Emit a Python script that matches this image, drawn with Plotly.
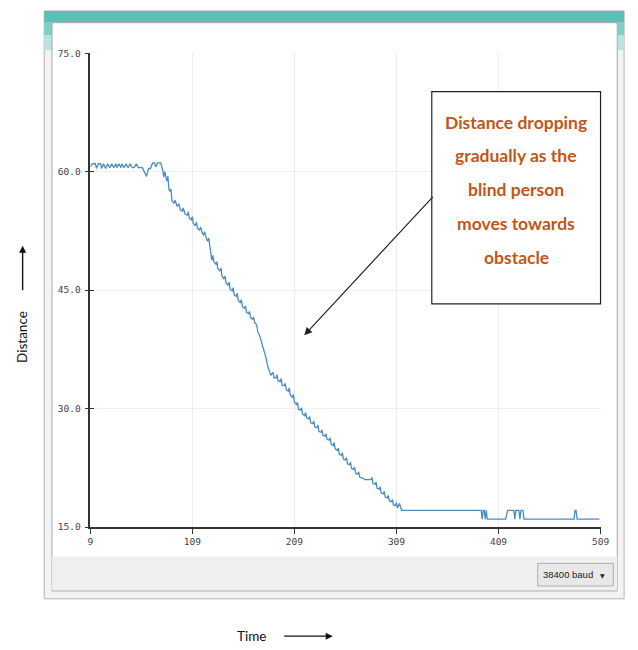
import plotly.graph_objects as go

# ---- data ----
time = [9, 11, 14, 15, 17, 19, 20, 22, 24, 26, 28, 30, 32, 34, 35, 37, 39, 40, 42, 44,
        46, 48, 50, 52, 54, 56, 60, 62, 64, 66, 68, 70, 72, 73, 75, 78,
        80, 81, 82, 84, 85, 86, 87, 88, 89, 91, 92, 94, 96, 97, 99, 100, 102, 104, 105,
        106, 108, 109, 110, 112, 113, 114, 116, 117, 119, 120, 121, 123, 124, 125, 126,
        127, 128, 129, 130, 132, 133, 134, 136, 137, 138, 140, 141, 142, 144, 145, 146,
        148, 149, 150, 152, 153, 154, 156, 157, 158, 160, 161, 162, 164, 165, 166, 168,
        169, 170, 172, 173, 175, 177, 179, 181, 183, 185,
        186, 188, 189, 191, 192, 193, 195, 196, 197, 199, 200, 201, 203, 204, 205, 207,
        208, 209, 211, 212, 213, 215, 216, 217, 219, 220, 221, 223, 224, 225, 227, 228,
        229, 231, 232, 233, 235, 236, 237, 239, 240, 241, 243, 244, 245, 247, 248, 249,
        251, 252, 253, 255, 256, 257, 259, 260, 261, 263, 264, 265, 267, 268, 269, 271,
        272, 273, 276, 278, 284, 285, 286, 288, 289, 290, 292, 293, 294, 296, 297, 298,
        300, 301, 302, 304, 305, 306, 308, 309, 310, 312, 314,
        392, 393, 394, 395, 396, 397, 398, 416, 418, 424, 425, 426, 429, 430, 431, 433,
        434, 483, 484, 485, 486, 508]
distance = [60.6, 61.0, 61.0, 60.4, 61.0, 61.0, 60.4, 61.0, 60.4, 61.0, 60.5, 61.0, 60.5,
            61.0, 60.5, 61.0, 60.5, 61.0, 60.5, 61.0, 60.5, 61.0, 60.5, 60.5, 61.0, 60.5,
            60.5, 60.0, 59.4, 60.4, 60.4, 61.1, 61.1, 60.6, 61.1, 61.1,
            60.2, 59.3, 60.0, 58.8, 59.4, 57.8, 57.5, 57.8, 56.3, 56.0, 56.4, 55.6, 55.9,
            55.2, 55.0, 55.4, 54.6, 54.5, 54.9, 54.1, 53.9, 54.3, 53.4, 53.2, 53.6, 52.8,
            52.6, 53.0, 52.1, 52.0, 52.4, 51.4, 51.2, 51.6, 50.5, 49.5, 48.8, 49.4, 48.6,
            48.3, 48.6, 47.7, 47.4, 47.8, 46.8, 46.4, 46.8, 45.9, 45.6, 46.0, 45.1, 44.9,
            45.3, 44.4, 44.2, 44.6, 43.7, 43.4, 43.8, 42.9, 42.7, 43.0, 42.2, 42.0, 42.3,
            41.5, 41.3, 41.6, 40.9, 40.6, 39.8, 39.2, 38.4, 37.6, 36.5, 35.3, 34.4,
            34.2, 34.6, 33.9, 33.9, 34.3, 33.5, 33.4, 33.8, 32.9, 32.9, 33.2, 32.4, 32.2,
            32.6, 31.7, 31.4, 31.8, 30.8, 30.5, 30.8, 29.9, 29.8, 30.1, 29.3, 29.1, 29.5,
            28.8, 28.7, 29.0, 28.2, 28.1, 28.4, 27.7, 27.6, 27.9, 27.1, 27.0, 27.3, 26.6,
            26.5, 26.8, 26.1, 26.0, 26.3, 25.5, 25.3, 25.7, 24.9, 24.7, 25.0, 24.2, 24.1,
            24.4, 23.6, 23.5, 23.8, 23.0, 22.9, 23.2, 22.4, 22.3, 22.6, 21.8, 21.7, 22.0,
            21.3, 21.2, 21.0, 21.0, 21.3, 20.5, 20.4, 20.7, 19.9, 19.8, 20.1, 19.3, 19.2,
            19.5, 18.8, 18.7, 19.0, 18.3, 18.2, 18.5, 17.8, 17.7, 18.1, 17.4, 18.0, 17.1,
            17.1, 16.0, 17.1, 17.1, 16.0, 17.1, 16.0, 16.0, 17.1, 17.1, 16.0, 17.1, 17.1,
            16.0, 17.1, 17.1, 16.0, 16.0, 17.1, 17.1, 16.0, 16.0]

x_ticks = [9, 109, 209, 309, 409, 509]
y_ticks = [15, 30, 45, 60, 75]
note_lines = ["Distance dropping", "gradually as the", "blind person",
              "moves towards", "obstacle"]

W, H = 638, 650


def px(v):
    return v / W


def py(v):
    return 1 - v / H


fig = go.Figure()
fig.add_trace(go.Scatter(x=time, y=distance, mode="lines",
                         line=dict(color="#4a8cc4", width=1.3),
                         showlegend=False, hoverinfo="skip"))
fig.add_trace(go.Scatter(x=[time[0]], y=[distance[0]], yaxis="y2", mode="markers",
                         marker=dict(opacity=0), showlegend=False, hoverinfo="skip"))

shapes = []


def rect(x0, y0, x1, y1, fill, line=None, lw=0, layer="below"):
    shapes.append(dict(type="rect", xref="paper", yref="paper",
                       x0=px(x0), x1=px(x1), y0=py(y1), y1=py(y0),
                       fillcolor=fill, layer=layer,
                       line=dict(color=line or "rgba(0,0,0,0)", width=lw)))


# window frame
rect(42, 5, 633, 603, "#f3f3f3", "#b4b4b4", 1)
rect(42, 5, 633, 17, "#5cbfb6")
rect(42, 17, 50, 30, "#7fcfc8")
rect(42, 30, 50, 45, "#b8e3df")
rect(626, 17, 633, 30, "#7fcfc8")
rect(626, 30, 633, 45, "#b8e3df")
rect(50, 17, 626, 595, "#ffffff", "#a8a8a8", 1)
rect(50, 560, 626, 594, "#efefef")
# baud dropdown
rect(545, 567, 622, 590, "#e8e8e8", "#b0b0b0", 1)
# note box
rect(437, 87, 609, 303, "#ffffff", "#222222", 1.2, layer="above")

annotations = []
for i, t in enumerate(note_lines):
    annotations.append(dict(xref="paper", yref="paper", x=px(523), y=py(118 + i * 34.5),
                            text="<b>" + t + "</b>", showarrow=False,
                            xanchor="center", yanchor="middle",
                            font=dict(family="Lato", size=17.5, color="#c0561a")))
# arrow from box to line
annotations.append(dict(xref="paper", yref="paper", x=px(307), y=py(335), text="",
                        showarrow=True, ax=130, ay=-140, arrowhead=2, arrowsize=1.3,
                        arrowwidth=1.2, arrowcolor="#222222"))
# dropdown text
annotations.append(dict(xref="paper", yref="paper", x=px(576), y=py(578),
                        text="38400 baud", showarrow=False,
                        xanchor="center", yanchor="middle",
                        font=dict(family="Liberation Sans", size=9.5, color="#222")))
annotations.append(dict(xref="paper", yref="paper", x=px(611), y=py(579),
                        text="▼", showarrow=False, xanchor="center", yanchor="middle",
                        font=dict(family="DejaVu Sans", size=6, color="#222")))
# axis titles with arrows
annotations.append(dict(xref="paper", yref="paper", x=px(20), y=py(337),
                        text="Distance", textangle=-90, showarrow=False,
                        xanchor="center", yanchor="middle",
                        font=dict(family="Lato", size=13.5, color="#111")))
annotations.append(dict(xref="paper", yref="paper", x=px(20), y=py(244), text="",
                        showarrow=True, ax=0, ay=46, arrowhead=2, arrowsize=1,
                        arrowwidth=1.4, arrowcolor="#111"))
annotations.append(dict(xref="paper", yref="paper", x=px(253), y=py(641),
                        text="Time", showarrow=False,
                        xanchor="center", yanchor="middle",
                        font=dict(family="Lato", size=13.5, color="#111")))
annotations.append(dict(xref="paper", yref="paper", x=px(336), y=py(641), text="",
                        showarrow=True, ax=-50, ay=0, arrowhead=2, arrowsize=1,
                        arrowwidth=1.4, arrowcolor="#111"))

tickfont = dict(family="DejaVu Sans Mono", size=9.5, color="#444")
fig.update_layout(
    width=W, height=H,
    margin=dict(l=0, r=0, t=0, b=0),
    paper_bgcolor="#ffffff",
    plot_bgcolor="rgba(0,0,0,0)",
    shapes=shapes,
    annotations=annotations,
    xaxis=dict(domain=[px(89), px(609)], range=[9, 509], tickvals=x_ticks,
               showline=True, linecolor="#333", linewidth=1.5,
               showgrid=True, gridcolor="#ececec", zeroline=False,
               ticks="outside", ticklen=5, tickcolor="#333", tickfont=tickfont),
    yaxis=dict(domain=[py(530), py(48)], range=[15, 75], tickvals=y_ticks,
               tickformat=".1f", showline=True, linecolor="#333", linewidth=1.5,
               showgrid=True, gridcolor="#f0f0f0", zeroline=False,
               ticks="outside", ticklen=4, tickcolor="#333", tickfont=tickfont,
               ticklabelstandoff=2),
    yaxis2=dict(overlaying="y", anchor="x", side="left", range=[15, 75],
                tickvals=y_ticks, showticklabels=False, showgrid=False,
                zeroline=False, showline=False, ticks="inside", ticklen=4,
                tickcolor="#333"),
)

fig.write_html("out.html", config={"displayModeBar": False},
               post_script="document.body.style.margin='0';document.body.style.overflow='hidden';")
